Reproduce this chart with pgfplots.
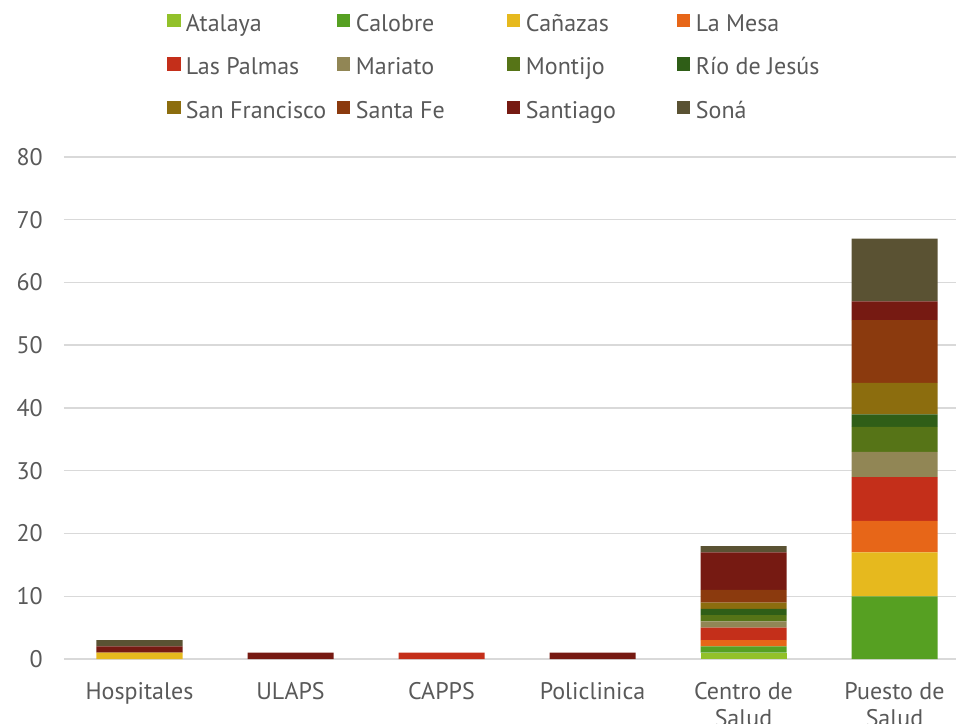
\documentclass[border=0pt]{standalone}
\usepackage{fontspec}
\setmainfont{PT Sans}
\usepackage{pgfplots}
\usepackage{pgfplotstable}
\pgfplotsset{compat=1.18}
\definecolor{textgray}{HTML}{595959}
\definecolor{gridgray}{HTML}{D9D9D9}
\definecolor{cAtalaya}{HTML}{92C12A}
\definecolor{cCalobre}{HTML}{56A022}
\definecolor{cCanazas}{HTML}{E6B91E}
\definecolor{cLaMesa}{HTML}{E76618}
\definecolor{cLasPalmas}{HTML}{C42F1A}
\definecolor{cMariato}{HTML}{918655}
\definecolor{cMontijo}{HTML}{567417}
\definecolor{cRio}{HTML}{2F5E17}
\definecolor{cSanFrancisco}{HTML}{8C6D0E}
\definecolor{cSantaFe}{HTML}{8B3A0E}
\definecolor{cSantiago}{HTML}{761A12}
\definecolor{cSona}{HTML}{5A5233}
\pgfplotstableread{
x Atalaya Calobre Canazas LaMesa LasPalmas Mariato Montijo Rio SanFrancisco SantaFe Santiago Sona
0 0 0 1 0 0 0 0 0 0 0 1 1
1 0 0 0 0 0 0 0 0 0 0 1 0
2 0 0 0 0 1 0 0 0 0 0 0 0
3 0 0 0 0 0 0 0 0 0 0 1 0
4 1 1 0 1 2 1 1 1 1 2 6 1
5 0 10 7 5 7 4 4 2 5 10 3 10
}\datatable
\newcommand{\lentry}[1]{\makebox[149bp][l]{\rule[-6bp]{0pt}{23bp}\smash{#1}}}
\pgfplotsset{sq/.style={draw=none, legend image code/.code={\fill[##1] (0bp,-3.5bp) rectangle (13.5bp,10bp); \path (17bp,0bp);}}}
\begin{document}
\begin{tikzpicture}
\begin{axis}[
  at={(0,0)}, anchor=south west,
  scale only axis, width=906bp, height=502bp,
  xmin=-0.5, xmax=5.5, ymin=0, ymax=80,
  ybar stacked, bar width=86bp,
  ytick={0,10,...,80},
  xtick={0,...,5},
  xticklabels={Hospitales, ULAPS, CAPPS, Policlinica, {Centro de\\Salud}, {Puesto de\\Salud}},
  xticklabel style={align=center, font=\fontsize{24bp}{27bp}\selectfont, text=textgray, anchor=north, inner ysep=0pt, yshift=-23bp},
  yticklabel style={font=\fontsize{24bp}{27bp}\selectfont, text=textgray, anchor=east, inner xsep=0pt, xshift=-21bp},
  /pgf/number format/assume math mode=true,
  ymajorgrids, grid style={draw=gridgray, line width=1.5bp},
  axis line style={draw=none},
  major tick length=0pt,
  legend columns=4,
  legend cell align=left,
  legend style={draw=none, fill=none, at={(0.1137,1.2879)}, anchor=north west, inner sep=0pt, outer sep=0pt, row sep=21bp, font=\fontsize{24bp}{27bp}\selectfont, text=textgray, /tikz/every even column/.append style={column sep=0pt}},
]
\addplot[sq, fill=cAtalaya] table[x=x,y=Atalaya]{\datatable}; \addlegendentry{\lentry{Atalaya}}
\addplot[sq, fill=cCalobre] table[x=x,y=Calobre]{\datatable}; \addlegendentry{\lentry{Calobre}}
\addplot[sq, fill=cCanazas] table[x=x,y=Canazas]{\datatable}; \addlegendentry{\lentry{Cañazas}}
\addplot[sq, fill=cLaMesa] table[x=x,y=LaMesa]{\datatable}; \addlegendentry{\lentry{La Mesa}}
\addplot[sq, fill=cLasPalmas] table[x=x,y=LasPalmas]{\datatable}; \addlegendentry{\lentry{Las Palmas}}
\addplot[sq, fill=cMariato] table[x=x,y=Mariato]{\datatable}; \addlegendentry{\lentry{Mariato}}
\addplot[sq, fill=cMontijo] table[x=x,y=Montijo]{\datatable}; \addlegendentry{\lentry{Montijo}}
\addplot[sq, fill=cRio] table[x=x,y=Rio]{\datatable}; \addlegendentry{\lentry{Río de Jesús}}
\addplot[sq, fill=cSanFrancisco] table[x=x,y=SanFrancisco]{\datatable}; \addlegendentry{\lentry{San Francisco}}
\addplot[sq, fill=cSantaFe] table[x=x,y=SantaFe]{\datatable}; \addlegendentry{\lentry{Santa Fe}}
\addplot[sq, fill=cSantiago] table[x=x,y=Santiago]{\datatable}; \addlegendentry{\lentry{Santiago}}
\addplot[sq, fill=cSona] table[x=x,y=Sona]{\datatable}; \addlegendentry{\lentry{Soná}}
\end{axis}
\pgfresetboundingbox
\path[use as bounding box] (-64bp,-65bp) rectangle (892bp,659bp);
\end{tikzpicture}
\end{document}
